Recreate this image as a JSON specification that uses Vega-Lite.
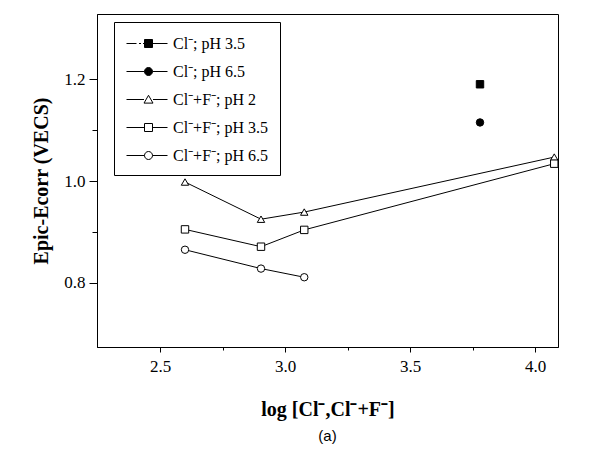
{
  "$schema": "https://vega.github.io/schema/vega-lite/v6.json",
  "width": 461,
  "height": 333,
  "autosize": "none",
  "padding": {"left": 97, "top": 14, "right": 39, "bottom": 114},
  "background": "white",
  "title": {"text": "(a)", "orient": "bottom", "font": "Liberation Sans", "fontSize": 15, "fontWeight": "normal", "color": "black", "offset": 10},
  "config": {
    "view": {"stroke": "black", "strokeWidth": 1},
    "axis": {
      "domainColor": "black", "tickColor": "black", "labelColor": "black", "titleColor": "black",
      "labelFont": "Liberation Serif", "labelFontSize": 17, "titleFont": "Liberation Serif",
      "titleFontSize": 20, "titleFontWeight": "bold", "grid": false
    },
    "legend": {
      "labelFont": "Liberation Serif", "labelFontSize": 16, "labelColor": "black"
    }
  },
  "data": {
    "values": [
      {"x": 3.78, "y": 1.19, "s": "Cl⁻; pH 3.5"},
      {"x": 3.78, "y": 1.115, "s": "Cl⁻; pH 6.5"},
      {"x": 2.6, "y": 0.998, "s": "Cl⁻+F⁻; pH 2"},
      {"x": 2.904, "y": 0.925, "s": "Cl⁻+F⁻; pH 2"},
      {"x": 3.077, "y": 0.939, "s": "Cl⁻+F⁻; pH 2"},
      {"x": 4.077, "y": 1.047, "s": "Cl⁻+F⁻; pH 2"},
      {"x": 2.6, "y": 0.905, "s": "Cl⁻+F⁻; pH 3.5"},
      {"x": 2.904, "y": 0.871, "s": "Cl⁻+F⁻; pH 3.5"},
      {"x": 3.077, "y": 0.904, "s": "Cl⁻+F⁻; pH 3.5"},
      {"x": 4.077, "y": 1.034, "s": "Cl⁻+F⁻; pH 3.5"},
      {"x": 2.6, "y": 0.865, "s": "Cl⁻+F⁻; pH 6.5"},
      {"x": 2.904, "y": 0.828, "s": "Cl⁻+F⁻; pH 6.5"},
      {"x": 3.077, "y": 0.811, "s": "Cl⁻+F⁻; pH 6.5"}
    ]
  },
  "encoding": {
    "x": {
      "field": "x", "type": "quantitative",
      "scale": {"domain": [2.248, 4.092], "nice": false, "zero": false},
      "axis": {
        "title": "log [Cl⁻,Cl⁻+F⁻]",
        "values": [2.5, 2.75, 3, 3.25, 3.5, 3.75, 4],
        "labelExpr": "round(datum.value*4)%2==0 ? format(datum.value,'.1f') : ''",
        "tickSize": {"condition": {"test": "round(datum.value*4)%2==0", "value": 5}, "value": 3},
        "labelFont": "Liberation Serif", "labelFontSize": 17,
        "labelPadding": 6,
        "titlePadding": 25
      }
    },
    "y": {
      "field": "y", "type": "quantitative",
      "scale": {"domain": [0.674, 1.328], "nice": false, "zero": false},
      "axis": {
        "title": "Epic-Ecorr (VECS)",
        "values": [0.8, 0.9, 1.0, 1.1, 1.2],
        "labelExpr": "round(datum.value*10)%2==0 ? format(datum.value,'.1f') : ''",
        "tickSize": {"condition": {"test": "round(datum.value*10)%2==0", "value": 8}, "value": 5},
        "labelFont": "Liberation Serif", "labelFontSize": 17,
        "labelPadding": 4,
        "titlePadding": 12
      }
    }
  },
  "layer": [
    {
      "transform": [{"filter": "indexof(datum.s, 'F') >= 0"}],
      "mark": {"type": "line", "color": "black", "strokeWidth": 1},
      "encoding": {"detail": {"field": "s"}}
    },
    {
      "mark": {"type": "point", "filled": true, "stroke": "black", "strokeWidth": 1, "size": 55, "opacity": 1},
      "encoding": {
        "shape": {
          "field": "s", "type": "nominal", "legend": null,
          "scale": {
            "domain": ["Cl⁻; pH 3.5", "Cl⁻; pH 6.5", "Cl⁻+F⁻; pH 2", "Cl⁻+F⁻; pH 3.5", "Cl⁻+F⁻; pH 6.5"],
            "range": ["square", "circle", "triangle-up", "square", "circle"]
          }
        },
        "fill": {
          "field": "s", "type": "nominal", "legend": null,
          "scale": {
            "domain": ["Cl⁻; pH 3.5", "Cl⁻; pH 6.5", "Cl⁻+F⁻; pH 2", "Cl⁻+F⁻; pH 3.5", "Cl⁻+F⁻; pH 6.5"],
            "range": ["black", "black", "white", "white", "white"]
          }
        }
      }
    },
    {
      "transform": [{"filter": "false"}],
      "mark": {"type": "point", "filled": true, "strokeWidth": 1, "size": 400, "opacity": 1},
      "encoding": {
        "shape": {
          "field": "s", "type": "nominal",
          "scale": {
            "domain": ["Cl⁻; pH 3.5", "Cl⁻; pH 6.5", "Cl⁻+F⁻; pH 2", "Cl⁻+F⁻; pH 3.5", "Cl⁻+F⁻; pH 6.5"],
            "range": [
              "M-0.9,0H0.1M0.35,0H0.55M0.75,0H0.9M1.7,0H3.2M0.9,-0.4H1.7V0.4H0.9Z",
              "M-0.9,0H0.9M1.7,0H3.2M1.7,0A0.4,0.4 0 1,1 0.9,0A0.4,0.4 0 1,1 1.7,0Z",
              "M-0.9,0H0.85M1.75,0H3.2M1.3,-0.42L1.75,0.36H0.85Z",
              "M-0.9,0H0.9M1.7,0H3.2M0.9,-0.4H1.7V0.4H0.9Z",
              "M-0.9,0H0.9M1.7,0H3.2M1.7,0A0.4,0.4 0 1,1 0.9,0A0.4,0.4 0 1,1 1.7,0Z"
            ]
          },
          "legend": {
            "title": null, "orient": "none", "legendX": 17, "legendY": 8,
            "fillColor": "white", "strokeColor": "black", "padding": 11,
            "symbolSize": 400, "symbolStrokeWidth": 1,
            "labelOffset": 27, "rowPadding": 9
          }
        },
        "fill": {
          "field": "s", "type": "nominal",
          "scale": {
            "domain": ["Cl⁻; pH 3.5", "Cl⁻; pH 6.5", "Cl⁻+F⁻; pH 2", "Cl⁻+F⁻; pH 3.5", "Cl⁻+F⁻; pH 6.5"],
            "range": ["black", "black", "white", "white", "white"]
          },
          "legend": {
            "title": null, "orient": "none", "legendX": 17, "legendY": 8,
            "fillColor": "white", "strokeColor": "black", "padding": 11,
            "symbolSize": 400, "symbolStrokeWidth": 1,
            "labelOffset": 27, "rowPadding": 9
          }
        },
        "stroke": {
          "field": "s", "type": "nominal",
          "scale": {
            "domain": ["Cl⁻; pH 3.5", "Cl⁻; pH 6.5", "Cl⁻+F⁻; pH 2", "Cl⁻+F⁻; pH 3.5", "Cl⁻+F⁻; pH 6.5"],
            "range": ["black", "black", "black", "black", "black"]
          },
          "legend": {
            "title": null, "orient": "none", "legendX": 17, "legendY": 8,
            "fillColor": "white", "strokeColor": "black", "padding": 11,
            "symbolSize": 400, "symbolStrokeWidth": 1,
            "labelOffset": 27, "rowPadding": 9
          }
        }
      }
    }
  ],
  "resolve": {"scale": {"shape": "independent", "fill": "independent", "stroke": "independent"}}
}
